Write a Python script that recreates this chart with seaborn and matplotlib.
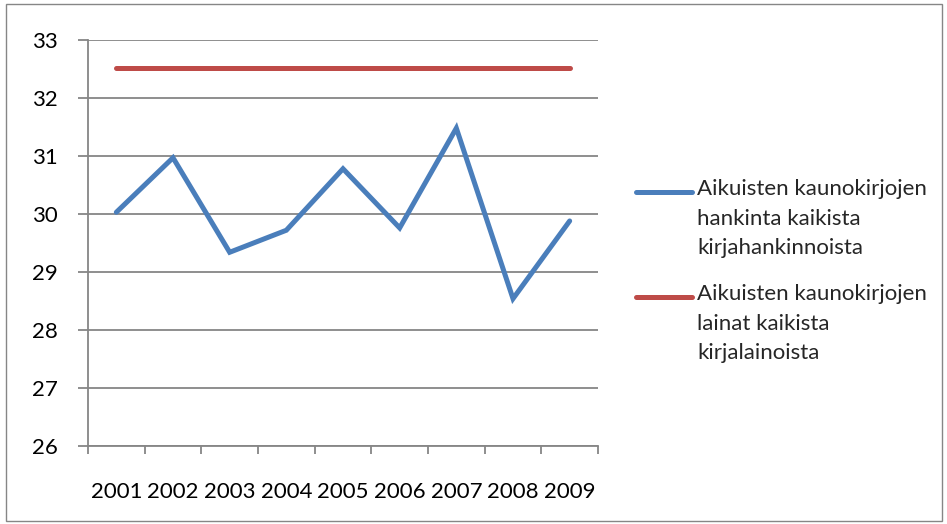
import matplotlib
matplotlib.use("Agg")
import matplotlib.pyplot as plt
import seaborn as sns
import pandas as pd
import numpy as np
from matplotlib.lines import Line2D
from matplotlib.patches import Rectangle

years = ["2001", "2002", "2003", "2004", "2005", "2006", "2007", "2008", "2009"]
hankinta = [30.03, 30.97, 29.34, 29.72, 30.78, 29.76, 31.48, 28.54, 29.88]
lainat = [32.52, 32.52, 32.52, 32.52, 32.52, 32.52, 32.52, 32.52, 32.52]
label_hankinta = "Aikuisten kaunokirjojen\nhankinta kaikista\nkirjahankinnoista"
label_lainat = "Aikuisten kaunokirjojen\nlainat kaikista\nkirjalainoista"
y_ticks = [26, 27, 28, 29, 30, 31, 32, 33]

sns.set_style("white")
plt.rcParams['font.family'] = ['Lato', 'DejaVu Sans']

BLUE = "#4A7EBB"
RED = "#BE4B48"
GRID = "#868686"

df = pd.DataFrame({
    "x": list(range(len(years))) * 2,
    "value": hankinta + lainat,
    "series": [label_hankinta] * len(years) + [label_lainat] * len(years),
})

fig = plt.figure(figsize=(9.47, 5.24), dpi=100)
ax = fig.add_axes([88/947, 1 - 446/524, (598-88)/947, (446-40)/524])

sns.lineplot(data=df, x="x", y="value", hue="series",
             palette={label_hankinta: BLUE, label_lainat: RED},
             linewidth=3.6, ax=ax, legend=False, sort=False)
for ln in ax.get_lines():
    ln.set_solid_capstyle("round")
    ln.set_solid_joinstyle("miter")

ax.set_xlim(-0.5, len(years) - 0.5)
ax.set_ylim(26, 33)
ax.set_yticks(y_ticks)
ax.set_yticklabels([str(v) for v in y_ticks])
ax.set_xticks(range(len(years)))
ax.set_xticklabels(years)
ax.set_xticks(np.arange(-0.5, len(years), 1.0), minor=True)
ax.set_xlabel("")
ax.set_ylabel("")

ax.grid(axis="y", color=GRID, linewidth=1.3)
ax.set_axisbelow(True)
for s in ["top", "right"]:
    ax.spines[s].set_visible(False)
for s in ["left", "bottom"]:
    ax.spines[s].set_visible(True)
    ax.spines[s].set_color(GRID)
    ax.spines[s].set_linewidth(1.3)

ax.tick_params(axis="y", which="major", length=7, width=1.3, color=GRID,
               direction="out", pad=15, labelsize=16, labelcolor="black", left=True)
ax.tick_params(axis="x", which="major", length=0, pad=26, labelsize=16, labelcolor="black")
ax.tick_params(axis="x", which="minor", length=6, width=1.3, color=GRID,
               direction="out", bottom=True)

# legend drawn manually in figure coordinates
for y_px, color, text in [(192, BLUE, label_hankinta), (297, RED, label_lainat)]:
    y = 1 - y_px / 524
    fig.add_artist(Line2D([636/947, 692/947], [y, y], color=color, linewidth=3.6,
                          solid_capstyle="round", transform=fig.transFigure))
    fig.text(697/947, 1 - (y_px - 13) / 524, text, ha="left", va="top", fontsize=16,
             linespacing=1.6, transform=fig.transFigure)

fig.add_artist(Rectangle((6/947, 3/524), 936/947, 517/524, fill=False,
                         edgecolor=GRID, linewidth=1.0, transform=fig.transFigure))

fig.savefig("out.png", dpi=100)
